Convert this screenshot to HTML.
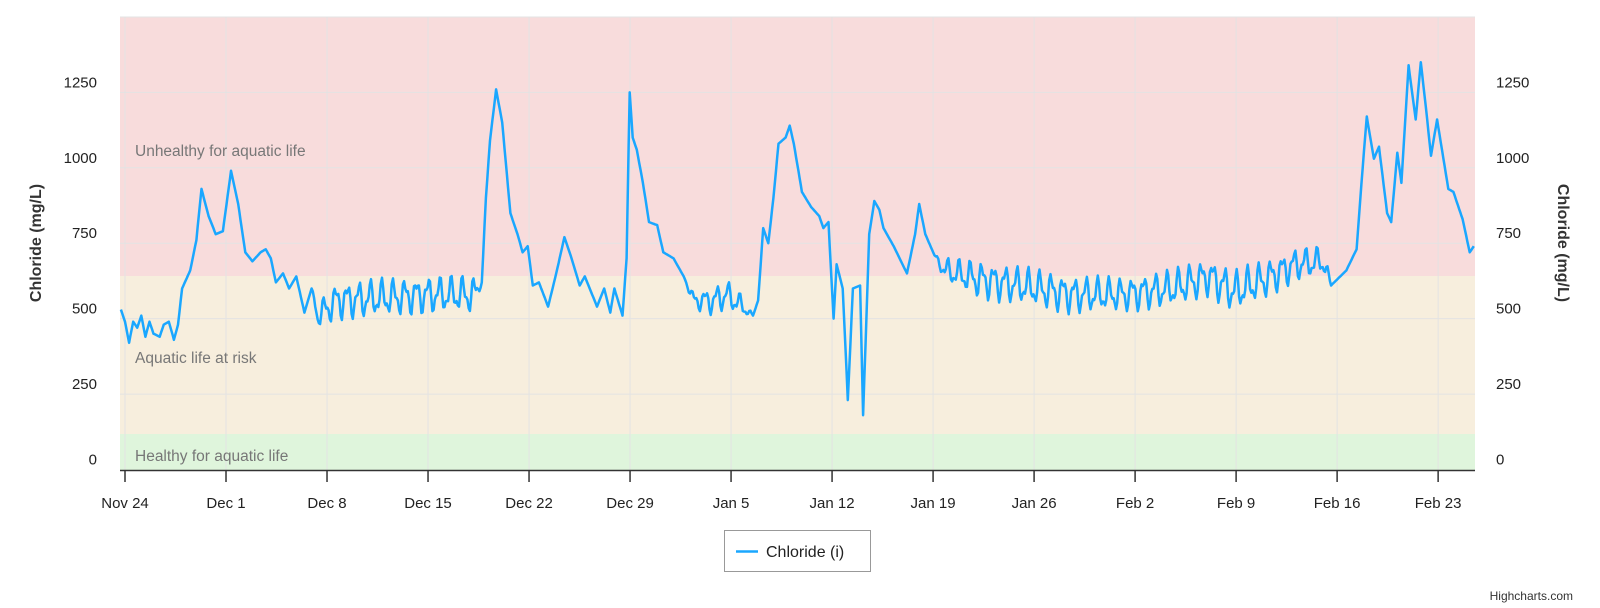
<!DOCTYPE html>
<html><head><meta charset="utf-8"><style>
html,body{margin:0;padding:0;background:#fff;}
svg{display:block;font-family:"Liberation Sans",sans-serif;}
</style></head><body>
<svg id="s" width="1600" height="608" xmlns="http://www.w3.org/2000/svg">
<rect x="120" y="17" width="1355" height="259" fill="#f8dcdc"/>
<rect x="120" y="276" width="1355" height="158" fill="#f7eedd"/>
<rect x="120" y="434" width="1355" height="36" fill="#dff5dc"/>
<g id="grid" stroke="#e3e3e3" stroke-width="1"></g>
<line x1="120" y1="470.5" x2="1475" y2="470.5" stroke="#333" stroke-width="1.5"/>
<g id="ticks" stroke="#333" stroke-width="1.5"></g>
<g id="lbl" font-size="15" fill="#222"></g>
<text x="135" y="156" font-size="15.5" fill="#777">Unhealthy for aquatic life</text>
<text x="135" y="363" font-size="15.5" fill="#777">Aquatic life at risk</text>
<text x="135" y="461" font-size="15.5" fill="#777">Healthy for aquatic life</text>
<text transform="translate(41,243) rotate(-90)" text-anchor="middle" font-size="16" font-weight="bold" fill="#333">Chloride (mg/L)</text>
<text transform="translate(1558,243) rotate(90)" text-anchor="middle" font-size="16" font-weight="bold" fill="#333">Chloride (mg/L)</text>
<path id="ln" fill="none" stroke="#1aa7ff" stroke-width="2.5" stroke-linejoin="round"/>
<rect x="724.5" y="530.5" width="146" height="41" fill="#fff" stroke="#999" stroke-width="1"/>
<line x1="736" y1="551.5" x2="758" y2="551.5" stroke="#1aa7ff" stroke-width="2.5"/>
<text x="766" y="557" font-size="16" fill="#222">Chloride (i)</text>
<text x="1573" y="600" text-anchor="end" font-size="12" fill="#333">Highcharts.com</text>
</svg>
<script>
var ns="http://www.w3.org/2000/svg";
function el(p,t,a,txt){var e=document.createElementNS(ns,t);for(var k in a)e.setAttribute(k,a[k]);if(txt!==undefined)e.textContent=String(txt);document.getElementById(p).appendChild(e);}
function Y(v){return 469.5-v*0.3017;}
for(var v=0;v<=1500;v+=250){var y=Y(v);if(v>0)el("grid","line",{x1:120,x2:1475,y1:y,y2:y});
 if(v<=1250){el("lbl","text",{x:97,y:y-5,"text-anchor":"end"},v);el("lbl","text",{x:1496,y:y-5},v);}}
var names=["Nov 24","Dec 1","Dec 8","Dec 15","Dec 22","Dec 29","Jan 5","Jan 12","Jan 19","Jan 26","Feb 2","Feb 9","Feb 16","Feb 23"];
for(var i=0;i<14;i++){var x=125+i*7*14.43;el("grid","line",{x1:x,x2:x,y1:17,y2:470});el("ticks","line",{x1:x,x2:x,y1:470,y2:482});el("lbl","text",{x:x,y:508,"text-anchor":"middle"},names[i]);}
var K=[[118,530,0],[122,490,0],[126,420,0],[130,490,0],[134,470,0],[138,510,0],[142,440,0],[146,490,0],[150,450,0],[156,440,0],[160,480,0],[165,490,0],[170,430,0],[174,480,0],[178,600,0],[186,660,0],[192,760,0],[197,930,0],[204,840,0],[211,780,0],[218,790,0],[226,990,0],[233,880,0],[240,720,0],[247,690,0],[255,720,0],[260,730,0],[265,700,0],[270,620,0],[277,650,0],[283,600,0],[290,640,0],[298,520,0],[305,600,0],[311,510,30],[330,560,45],[380,570,45],[420,580,45],[465,580,45],[472,620,0],[476,900,0],[480,1090,0],[486,1260,0],[492,1150,0],[500,850,0],[507,780,0],[512,720,0],[517,740,0],[522,610,0],[528,620,0],[537,540,0],[545,650,0],[553,770,0],[560,700,0],[568,610,0],[573,640,0],[585,540,0],[592,600,0],[598,520,0],[602,600,0],[610,510,0],[614,700,0],[617,1250,0],[620,1100,0],[624,1060,0],[630,950,0],[636,820,0],[644,810,0],[650,720,0],[660,700,0],[670,640,0],[680,560,20],[700,560,35],[712,580,35],[728,540,25],[738,510,0],[743,560,0],[748,800,0],[753,750,0],[758,900,0],[763,1080,0],[770,1100,0],[774,1140,0],[778,1080,0],[786,920,0],[795,870,0],[803,840,0],[807,800,0],[812,820,0],[817,500,0],[820,680,0],[826,600,0],[831,230,0],[836,600,0],[843,610,0],[846,180,0],[852,780,0],[857,890,0],[862,860,0],[866,800,0],[876,740,0],[889,650,0],[897,780,0],[901,880,0],[907,780,0],[916,710,0],[926,660,30],[960,630,45],[1000,610,45],[1050,580,45],[1100,580,40],[1150,600,45],[1185,640,45],[1210,590,50],[1240,630,45],[1270,680,40],[1298,690,35],[1305,610,0],[1320,660,0],[1330,730,0],[1336,1000,0],[1340,1170,0],[1347,1030,0],[1352,1070,0],[1360,850,0],[1364,820,0],[1370,1050,0],[1374,950,0],[1381,1340,0],[1388,1160,0],[1393,1350,0],[1398,1200,0],[1403,1040,0],[1409,1160,0],[1420,930,0],[1425,920,0],[1434,830,0],[1441,720,0],[1445,740,0]];
var d="";
for(var j=0;j<K.length-1;j++){var a=K[j],b=K[j+1];var n=Math.max(1,Math.round((b[0]-a[0])/1.2));
 for(var s=0;s<n;s++){var t=s/n;var xp=a[0]+(b[0]-a[0])*t;var v=a[1]+(b[1]-a[1])*t;var amp=a[2]+(b[2]-a[2])*t;
  var day=(xp-122)/14.154;
  v+=amp*(Math.sin(day*2*Math.PI*1.25)+0.5*Math.sin(day*2*Math.PI*2.7+1.3));
  var X=125+14.43*day;if(X<120)X=120;
  d+=(d?"L":"M")+X.toFixed(1)+","+Y(v).toFixed(1);}}
var last=K[K.length-1];d+="L"+Math.min(1475,125+14.43*(last[0]-122)/14.154).toFixed(1)+","+Y(last[1]).toFixed(1);
document.getElementById("ln").setAttribute("d",d);
</script>
</body></html>
